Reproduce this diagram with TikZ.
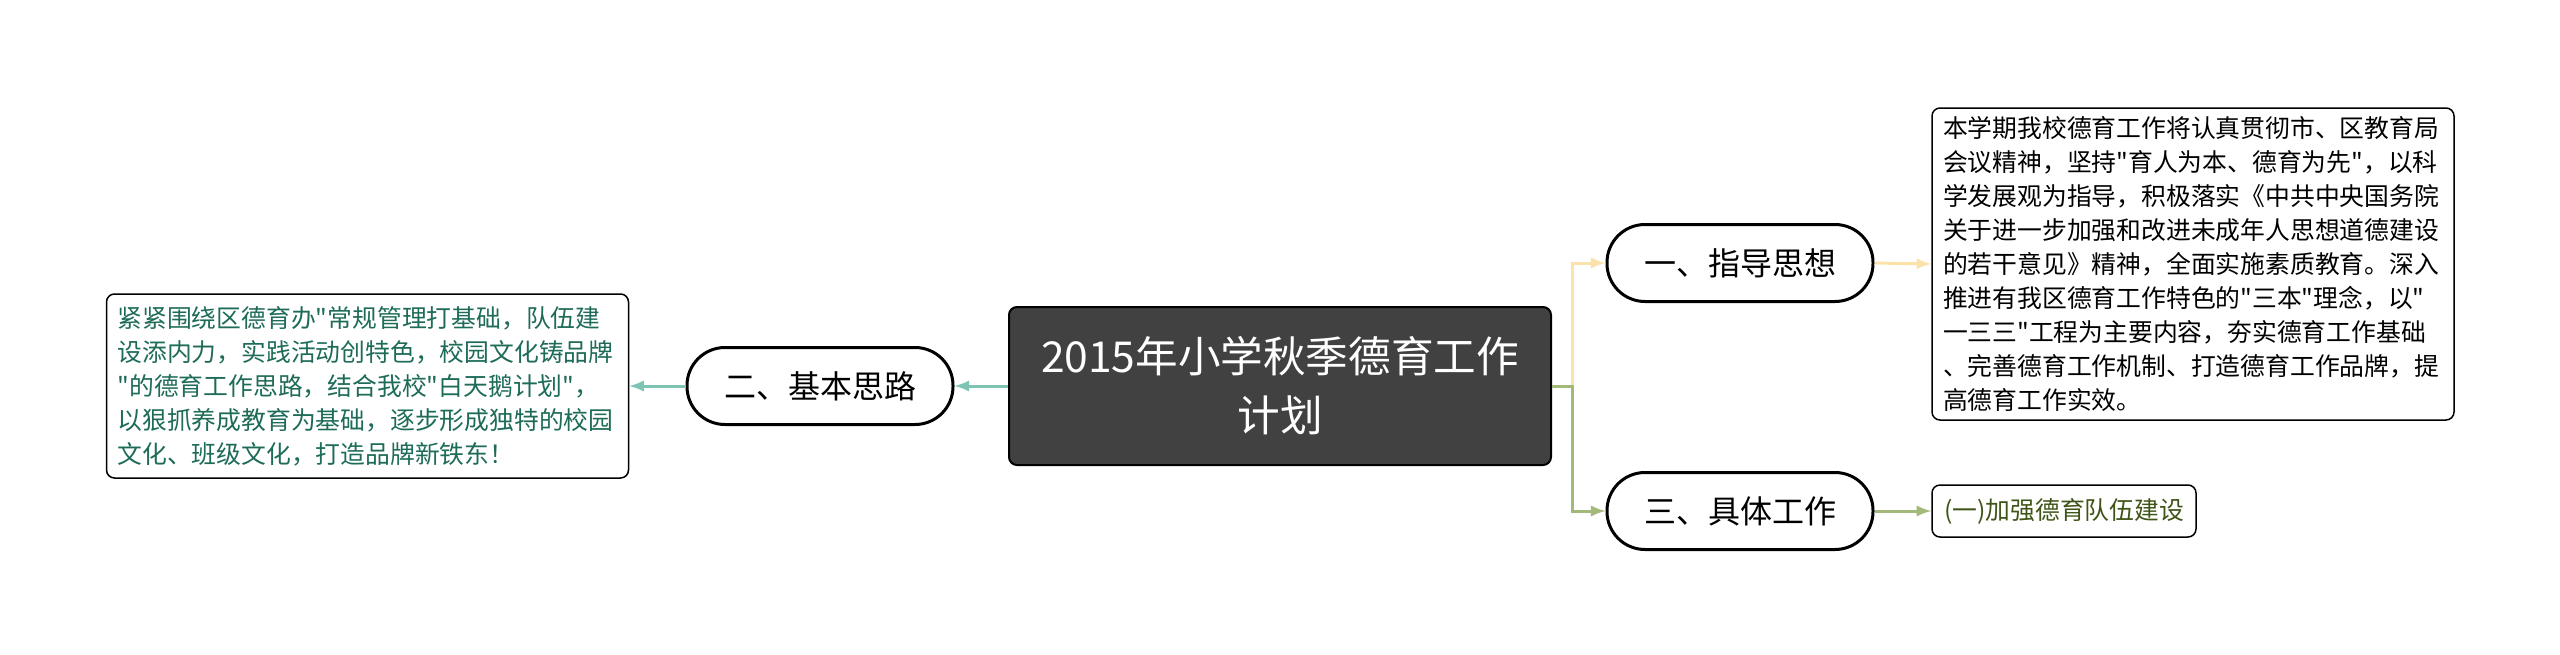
\documentclass[tikz,border=0pt]{standalone}
\usepackage{fontspec}
\newfontfamily\cjk{Noto Sans CJK SC}
\usepackage{tikz}
\usetikzlibrary{calc,arrows}

\definecolor{tealline}{HTML}{7DC4B4}
\definecolor{yellowline}{HTML}{FBE2AA}
\definecolor{greenline}{HTML}{A2B97A}
\definecolor{tealtext}{HTML}{1D6B58}
\definecolor{olivetext}{HTML}{3F5417}
\definecolor{titlefill}{HTML}{414141}

\begin{document}
\begin{tikzpicture}
	[   x=0.5pt,y=-0.5pt,
		titlebox/.style={draw=black,line width=1pt,fill=titlefill,rounded corners=4pt,minimum width=271pt,minimum height=79pt,align=center,text=white,font={\cjk\fontsize{21.3}{29.5}\selectfont}},
		topic/.style={draw=black,line width=1.5pt,fill=white,rounded corners=19pt,minimum width=133pt,minimum height=38.5pt,font={\cjk\fontsize{16}{20}\selectfont}},
		notebox/.style={draw=black,line width=0.75pt,fill=white,rounded corners=4pt,text width=250pt,align=left,inner xsep=5.5pt,minimum height=#1,font={\cjk\fontsize{12.4}{17}\selectfont}},
		leafbox/.style={draw=black,line width=0.75pt,fill=white,rounded corners=4pt,minimum width=132pt,minimum height=26pt,font={\cjk\fontsize{12.4}{17}\selectfont}},
	]
	\tikzset{normal arrow/.style={draw,line width=1.5pt,-latex}}
	\useasboundingbox (0,0) rectangle (2560,654);
	
	\node[titlebox] (plan) at (1280,386) {2015年小学秋季德育工作\\计划};
	
	\node[topic] (basic) at (820,386) {二、基本思路};
	\node[notebox=92pt,text=tealtext] (basic-text) at (367.5,386) {紧紧围绕区德育办"常规管理打基础，队伍建\\设添内力，实践活动创特色，校园文化铸品牌\\"的德育工作思路，结合我校"白天鹅计划"，\\以狠抓养成教育为基础，逐步形成独特的校园\\文化、班级文化，打造品牌新铁东！};
	
	\node[topic] (guide) at (1740,263) {一、指导思想};
	\node[notebox=156pt] (guide-text) at (2193,264) {本学期我校德育工作将认真贯彻市、区教育局\\会议精神，坚持"育人为本、德育为先"，以科\\学发展观为指导，积极落实《中共中央国务院\\关于进一步加强和改进未成年人思想道德建设\\的若干意见》精神，全面实施素质教育。深入\\推进有我区德育工作特色的"三本"理念，以"\\一三三"工程为主要内容，夯实德育工作基础\\、完善德育工作机制、打造德育工作品牌，提\\高德育工作实效。};
	
	\node[topic] (work) at (1740,511) {三、具体工作};
	\node[leafbox,text=olivetext] (team) at (2064,511) {(一)加强德育队伍建设};
	
	\coordinate (fork) at (1572,386);
	
	\path[normal arrow,tealline] (plan.west) -- (basic.east);
	\path[normal arrow,tealline] (basic.west) -- (basic-text.east);
	
	\path[normal arrow,yellowline] (plan.east) -- (fork) |- (guide.west);
	\path[normal arrow,yellowline] (guide.east) -- (guide-text.west);
	
	\path[normal arrow,greenline] (plan.east) -- (fork) |- (work.west);
	\path[normal arrow,greenline] (work.east) -- (team.west);
	
	%\draw[red] (fork) circle (4);
\end{tikzpicture}
\end{document}
